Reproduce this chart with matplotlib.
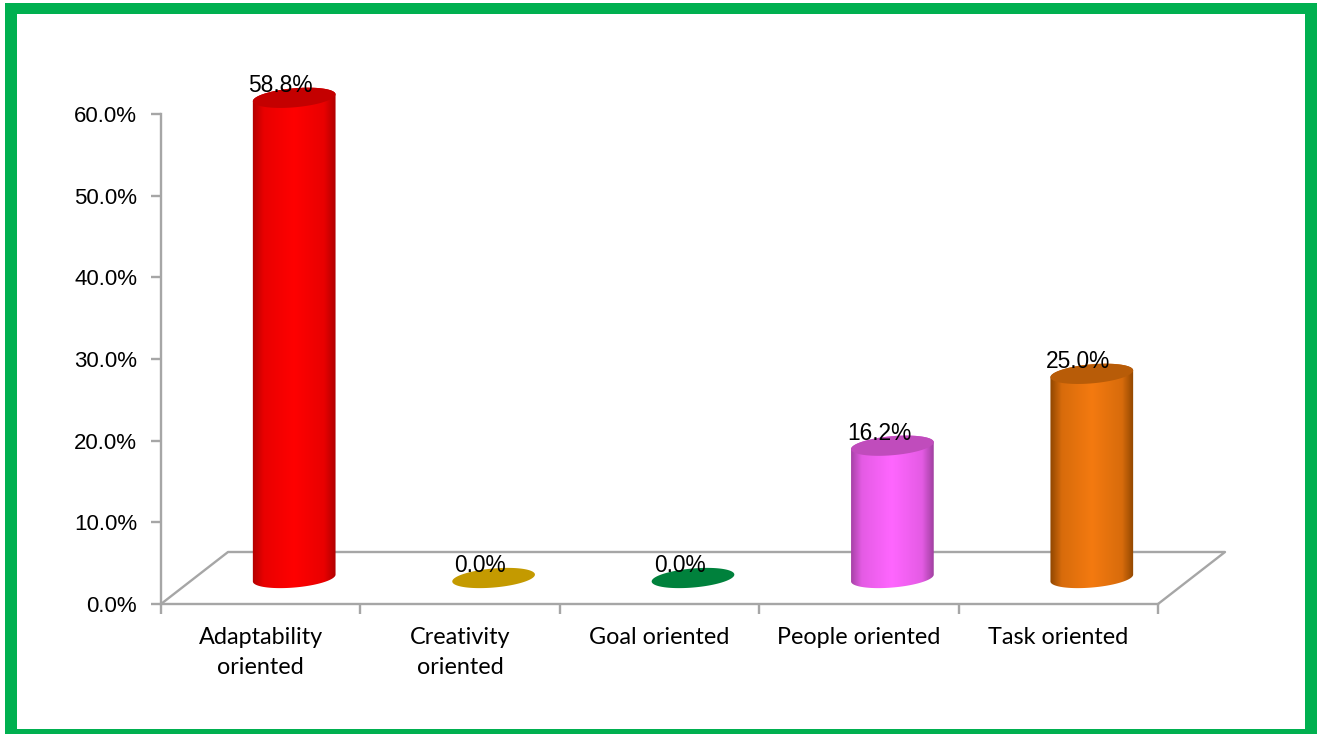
import numpy as np
import matplotlib.pyplot as plt
from matplotlib.colors import LinearSegmentedColormap, to_rgb
from matplotlib.patches import Polygon, Rectangle

categories = ["Adaptability\noriented", "Creativity\noriented", "Goal oriented", "People oriented", "Task oriented"]
values = [58.8, 0.0, 0.0, 16.2, 25.0]
y_ticks = [0, 10, 20, 30, 40, 50, 60]

side_dark = ["#b00000", "#a88400", "#006b32", "#a040a0", "#8f4600"]
side_bright = ["#ff0000", "#c89a00", "#008a40", "#ff66ff", "#f47a10"]
top_colors = ["#c40000", "#c49a00", "#00813c", "#c04cbc", "#b85c08"]

W, H = 1317, 734
GRAY = "#a6a6a6"

# axes box in pixels
left, right, top, bottom = 161, 1158, 114, 604
x_unit = (right - left) / 5
y_unit = (bottom - top) / 60

fig = plt.figure(figsize=(W / 100, H / 100), dpi=100)
ax = fig.add_axes([left / W, 1 - bottom / H, (right - left) / W, (bottom - top) / H])
ax.set_xlim(0, 5)
ax.set_ylim(0, 60)

# green frame, bottom edge is thinner than the others
for x0, y0, w, h in [(5, 3, 1312, 11), (5, 729, 1312, 5), (5, 3, 12, 731), (1305, 3, 12, 731)]:
    fig.add_artist(Rectangle((x0 / W, 1 - (y0 + h) / H), w / W, h / H, transform=fig.transFigure,
                             facecolor="#00b050", edgecolor="none"))

# fake 3d floor
depth_x = 67 / x_unit
depth_y = 52 / y_unit
ax.plot([0, depth_x, 5 + depth_x, 5], [0, depth_y, depth_y, 0], color=GRAY, lw=1.7, clip_on=False, zorder=1)


def ellipse(cx, cy, t):
    a, b, r = 41.5, 9.5, np.radians(5)
    dx = a * np.cos(t) * np.cos(r) - b * np.sin(t) * np.sin(r)
    dy = a * np.cos(t) * np.sin(r) + b * np.sin(t) * np.cos(r)
    return np.column_stack([cx + dx / x_unit, cy + dy / y_unit])


def mix(c1, c2, f):
    return tuple(np.array(to_rgb(c1)) * (1 - f) + np.array(to_rgb(c2)) * f)


for i, v in enumerate(values):
    cx = i + 0.5 + depth_x / 2
    base = depth_y / 2
    tip = base + v
    if v > 0:
        outline = np.vstack([ellipse(cx, base, np.linspace(np.pi, 2 * np.pi, 60)),
                             ellipse(cx, tip, np.linspace(0, np.pi, 60))])
        poly = Polygon(outline, closed=True, facecolor="none", edgecolor="none", zorder=2)
        ax.add_patch(poly)
        mid = mix(side_dark[i], side_bright[i], 0.72)
        cmap = LinearSegmentedColormap.from_list(
            "side", [(0, side_dark[i]), (0.14, mid), (0.5, side_bright[i]), (0.86, mid), (1, side_dark[i])])
        im = ax.imshow(np.linspace(0, 1, 256).reshape(1, -1), cmap=cmap, aspect="auto", zorder=2,
                       extent=[cx - 42 / x_unit, cx + 42 / x_unit, base - 12 / y_unit, tip + 12 / y_unit],
                       interpolation="bilinear")
        im.set_clip_box(fig.bbox)
        im.set_clip_path(poly)
    ax.add_patch(Polygon(ellipse(cx, tip, np.linspace(0, 2 * np.pi, 100)), closed=True,
                         facecolor=top_colors[i], edgecolor="none", zorder=3, clip_on=False))
    ax.annotate(f"{v:.1f}%", (cx, tip), xytext=(-13.5, 12), textcoords="offset pixels", ha="center", va="center",
                fontsize=16.4, family="Liberation Sans", color="black", zorder=4, annotation_clip=False)

ax.set_xlim(0, 5)
ax.set_ylim(0, 60)

ax.spines["top"].set_visible(False)
ax.spines["right"].set_visible(False)
ax.spines["left"].set_color(GRAY)
ax.spines["bottom"].set_color(GRAY)
ax.spines["left"].set_linewidth(1.7)
ax.spines["bottom"].set_linewidth(1.7)

ax.set_yticks(y_ticks)
ax.set_yticklabels([f"{t:.1f}%" for t in y_ticks], fontsize=16, family="Liberation Sans")
ax.tick_params(axis="y", color=GRAY, width=1.7, length=7.2, pad=10)

ax.set_xticks(range(6))
ax.set_xticklabels([])
ax.set_xticks(np.arange(5) + 0.5, minor=True)
ax.set_xticklabels(categories, minor=True, fontsize=16.8, family="Lato", linespacing=1.52)
ax.tick_params(axis="x", which="major", color=GRAY, width=1.7, length=7.2)
ax.tick_params(axis="x", which="minor", length=0, pad=16.5)

fig.savefig("out.png", dpi=100)
